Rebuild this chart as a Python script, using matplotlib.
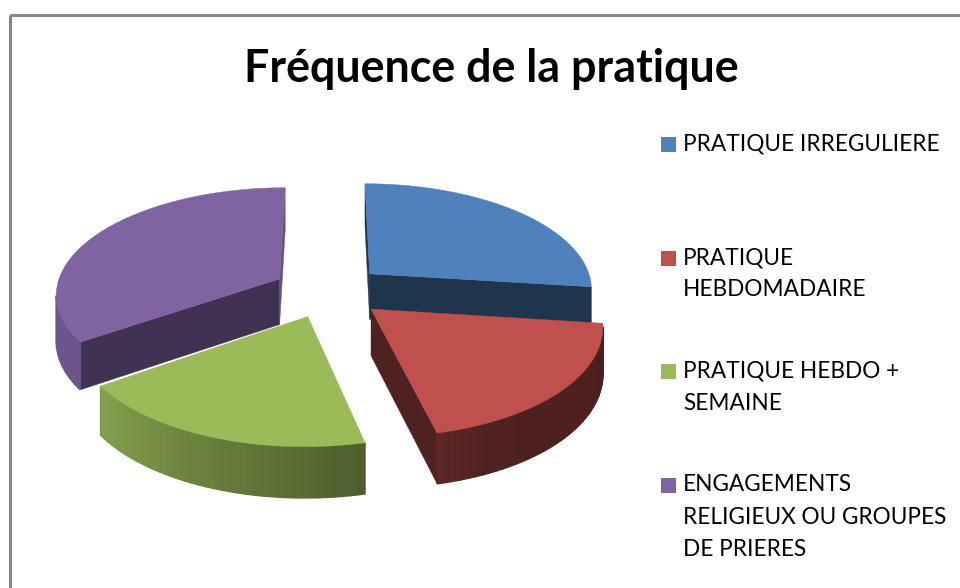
# 3D exploded pie, projected by hand since matplotlib has no 3D pie
import numpy as np
import matplotlib
matplotlib.use("Agg")
import matplotlib.pyplot as plt
from matplotlib.patches import Polygon, Rectangle

title = "Fréquence de la pratique"
labels = ["PRATIQUE IRREGULIERE", "PRATIQUE\nHEBDOMADAIRE",
          "PRATIQUE HEBDO +\nSEMAINE", "ENGAGEMENTS\nRELIGIEUX OU GROUPES\nDE PRIERES"]
values = [27, 19.35, 19, 34.65]
colors = ["#4F81BD", "#C0504D", "#9BBB59", "#8064A2"]

# projection settings, in pixels
cx, cy = 328.5, 291
R, A = 224, 106
persp = 0.13
depth = 46
explode = 0.25
start_shade = [0.40, 0.41, 0.50, 0.50]
end_shade = [0.40, 0.41, 0.50, 0.80]
shade_t = [90, 155, 167, 234, 270, 360]
shade_v = [0.40, 0.41, 0.50, 0.85, 0.85, 0.85]

plt.rcParams["font.family"] = ["Lato", "DejaVu Sans"]
fig = plt.figure(figsize=(9.6, 5.88), dpi=100)
ax = fig.add_axes([0, 0, 1, 1])
ax.set_xlim(0, 960)
ax.set_ylim(588, 0)
ax.axis("off")

# chart frame runs off the image at right and bottom
ax.add_patch(Rectangle((9.5, 14.5), 1000, 1000, fill=False, ec="#868686", lw=2.2))


def project(x, y, z):
    s = 1 / (1 + persp * y)
    return cx + R * x * s, cy - A * y * s - depth * z * (1 + 0.6 * (s - 1))


def shaded(col, f):
    rgb = np.array(matplotlib.colors.to_rgb(col)) * f
    return tuple(rgb)


def area(pts):
    p = np.array(pts)
    q = np.roll(p, -1, axis=0)
    return np.sum(p[:, 0] * q[:, 1] - q[:, 0] * p[:, 1])


def face(pts, col, z, lw=0.3):
    ax.add_patch(Polygon(pts, closed=True, fc=col, ec=col, lw=lw, zorder=z))


fr = np.array(values) / sum(values) * 360
stops = np.concatenate([[0], np.cumsum(fr)])
order = [3, 0, 2, 1]  # back to front

for z, i in enumerate(order):
    t0, t1 = stops[i], stops[i + 1]
    mid = np.radians((t0 + t1) / 2)
    ox, oy = explode * np.sin(mid), explode * np.cos(mid)
    ts = np.linspace(t0, t1, 40)
    rad = np.radians(ts)
    ex, ey = ox + np.sin(rad), oy + np.cos(rad)
    apex_top = project(ox, oy, 0)
    apex_bot = project(ox, oy, -1)

    # cut faces of the slice
    for e, sign, sh in ((0, -1, start_shade[i]), (-1, 1, end_shade[i])):
        quad = [apex_top, project(ex[e], ey[e], 0), project(ex[e], ey[e], -1), apex_bot]
        if area(quad) * sign > 0:
            face(quad, shaded(colors[i], sh), z)

    # outer wall, split up for the gradient; thicker edges hide the seams
    for k in range(len(ts) - 1):
        quad = [project(ex[k], ey[k], 0), project(ex[k + 1], ey[k + 1], 0),
                project(ex[k + 1], ey[k + 1], -1), project(ex[k], ey[k], -1)]
        if area(quad) < 0:
            f = np.interp((ts[k] + ts[k + 1]) / 2, shade_t, shade_v)
            face(quad, shaded(colors[i], f), z, lw=1.0)

    top = [apex_top] + [project(a, b, 0) for a, b in zip(ex, ey)]
    face(top, colors[i], z)

ax.text(491.5, 69, title, ha="center", va="center", fontsize=32.3, fontweight="bold", color="black", zorder=10)

# legend
y = 144
gap = 113.5
for i, lab in enumerate(labels):
    ax.add_patch(Rectangle((661, y - 7), 15, 15, fc=colors[i], ec="none", zorder=10))
    for j, line in enumerate(lab.split("\n")):
        ax.text(683, y + 32.5 * j, line, ha="left", va="center", fontsize=16.3, color="black", zorder=10)
    y += gap

fig.savefig("out.png", dpi=100)
